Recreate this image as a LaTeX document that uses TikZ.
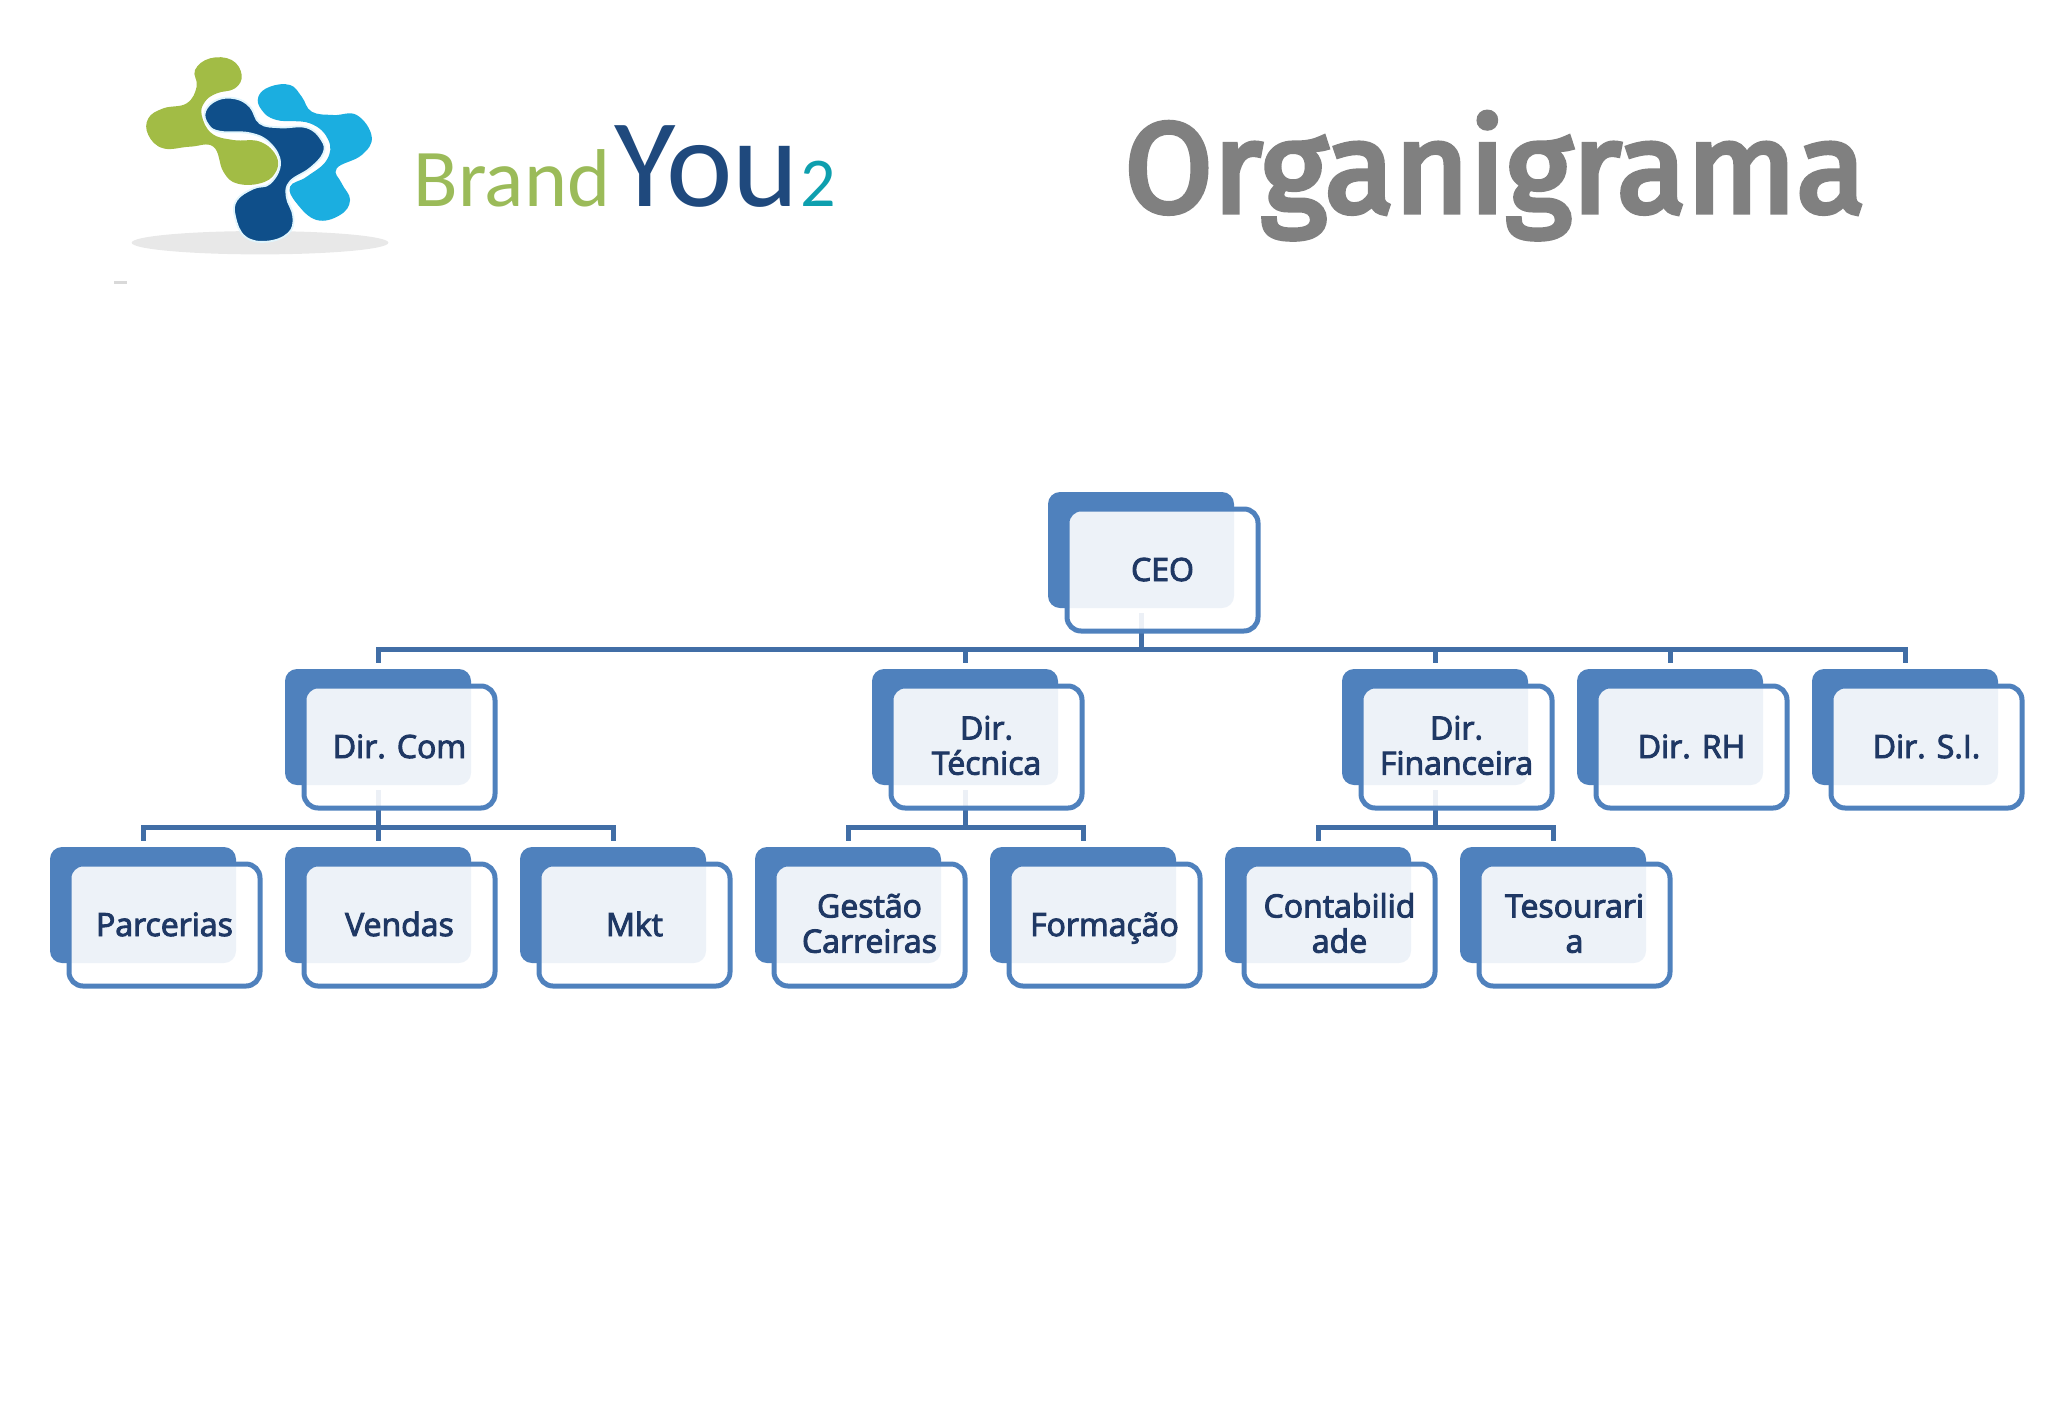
\documentclass[tikz,border=0pt]{standalone}
\usepackage{fontspec}
\setmainfont[FakeBold=3]{Open Sans}
\newfontfamily\logofont{Carlito}
\newfontfamily\titlefont[FakeBold=4]{Fira Sans}
\usetikzlibrary{positioning}
\definecolor{boxblue}{HTML}{4F81BD}
\definecolor{linkblue}{HTML}{416EA6}
\definecolor{boxtext}{HTML}{1F3864}
\definecolor{logogreen}{HTML}{9BBB59}
\definecolor{logonavy}{HTML}{1F497D}
\definecolor{logoteal}{HTML}{0E9FAE}
\definecolor{blobgreen}{HTML}{A2BC45}
\definecolor{blobdark}{HTML}{0F4F8A}
\definecolor{blobcyan}{HTML}{1BAEE0}
\newcommand{\boxstrut}{\rule[-4pt]{0pt}{19pt}}
\newcommand{\topstrut}{\rule{0pt}{14pt}}
\tikzstyle{backbox}=[fill=boxblue, rounded corners=6pt, minimum width=93pt, minimum height=58pt, inner sep=0pt, outer sep=0pt]
\tikzstyle{frontbox}=[draw=boxblue, line width=2.5pt, fill=white, fill opacity=0.9, text opacity=1, rounded corners=7pt, minimum width=95.5pt, minimum height=61pt, inner sep=0pt, align=center, text=boxtext, font=\fontsize{16}{17.6}\selectfont, execute at begin node=\boxstrut, execute at end node=\boxstrut]
\tikzstyle{link}=[draw=linkblue, line width=2.5pt, shorten <=2.5pt, shorten >=3pt]

\begin{document}
\begin{tikzpicture}[x=0.5pt, y=-0.5pt, node distance=31pt and 24.5pt]
    \path[use as bounding box] (0,0) rectangle (2048,1418);

    % logo
    \begin{scope}[shift={(120,40)}, x=0.1667pt, y=-0.1667pt]
      \fill[gray!18] (420,608) ellipse [x radius=385, y radius=35];
      \fill[gray!30] (-18,722) rectangle (22,732);
      \fill[blobgreen] plot[smooth cycle, tension=0.7] coordinates {(225,90) (270,55) (335,60) (365,105) (345,145) (290,160) (255,185) (245,225) (275,280) (340,300) (420,305) (470,350) (465,400) (420,430) (350,430) (310,395) (280,320) (210,320) (130,325) (85,285) (85,235) (130,205) (200,190) (230,140)};
      \fill[blobcyan] plot[smooth cycle, tension=0.7] coordinates {(415,170) (450,140) (510,135) (545,170) (575,215) (640,225) (710,225) (755,290) (725,345) (650,385) (665,430) (690,480) (660,525) (590,540) (530,490) (510,440) (560,410) (620,360) (625,300) (570,250) (470,240) (425,210)};
      \filldraw[fill=blobdark, draw=cyan!12!white, line width=0.9pt] plot[smooth cycle, tension=0.7] coordinates {(255,215) (290,180) (345,175) (390,200) (420,250) (480,262) (560,262) (605,300) (610,340) (570,385) (510,425) (500,470) (520,530) (505,580) (440,605) (375,590) (345,530) (350,480) (400,445) (450,430) (480,370) (450,310) (390,280) (300,275) (265,255)};
    \end{scope}
    \node[anchor=base west, inner sep=0pt, text=logogreen, font=\logofont\fontsize{41}{41}\selectfont] (brand) at (413,206) {Brand};
    \node[anchor=base west, inner sep=0pt, text=logonavy, font=\logofont\fontsize{63}{63}\selectfont] (you) at (614,206) {You};
    \node[anchor=base west, inner sep=0pt, text=logoteal, font=\logofont\fontsize{35}{35}\selectfont] (two) at (800,206) {2};
    \node[anchor=base west, inner sep=0pt, text=gray, font=\titlefont\fontsize{64}{64}\selectfont] (title) at (1124,212) {Organigrama};

    % back boxes
    \node[backbox] (ceoback) at (1141,550) {};
    \node[backbox] (parceriasback) at (143,905) {};
    \node[backbox] (vendasback) [right = of parceriasback] {};
    \node[backbox] (mktback) [right = of vendasback] {};
    \node[backbox] (gestaoback) [right = of mktback] {};
    \node[backbox] (formacaoback) [right = of gestaoback] {};
    \node[backbox] (contabback) [right = of formacaoback] {};
    \node[backbox] (tesourback) [right = of contabback] {};
    \node[backbox] (dircomback) [above = of vendasback] {};
    \node[backbox] (dirtecback) at (965,727) {};
    \node[backbox] (dirfinback) at (1435,727) {};
    \node[backbox] (dirrhback) [right = of dirfinback] {};
    \node[backbox] (dirsiback) [right = of dirrhback] {};

    \draw[link] (ceoback.south) -- ++(0,41) -| (dircomback.north);
    \draw[link] (ceoback.south) -- ++(0,41) -| (dirtecback.north);
    \draw[link] (ceoback.south) -- ++(0,41) -| (dirfinback.north);
    \draw[link] (ceoback.south) -- ++(0,41) -| (dirrhback.north);
    \draw[link] (ceoback.south) -- ++(0,41) -| (dirsiback.north);
    \draw[link] (dircomback.south) -- ++(0,42) -| (parceriasback.north);
    \draw[link] (dircomback.south) -- ++(0,42) -| (vendasback.north);
    \draw[link] (dircomback.south) -- ++(0,42) -| (mktback.north);
    \draw[link] (dirtecback.south) -- ++(0,42) -| (gestaoback.north);
    \draw[link] (dirtecback.south) -- ++(0,42) -| (formacaoback.north);
    \draw[link] (dirfinback.south) -- ++(0,42) -| (contabback.north);
    \draw[link] (dirfinback.south) -- ++(0,42) -| (tesourback.north);

    % front boxes
    \node[frontbox] (ceo) at ([shift={(21.5,20)}]ceoback.center) {CEO};
    \node[frontbox] (dircom) at ([shift={(21.5,20)}]dircomback.center) {Dir. Com};
    \node[frontbox] (dirtec) at ([shift={(21.5,20)}]dirtecback.center) {\topstrut Dir.\\Técnica};
    \node[frontbox] (dirfin) at ([shift={(21.5,20)}]dirfinback.center) {\topstrut Dir.\\Financeira};
    \node[frontbox] (dirrh) at ([shift={(21.5,20)}]dirrhback.center) {Dir. RH};
    \node[frontbox] (dirsi) at ([shift={(21.5,20)}]dirsiback.center) {Dir. S.I.};
    \node[frontbox] (parcerias) at ([shift={(21.5,20)}]parceriasback.center) {Parcerias};
    \node[frontbox] (vendas) at ([shift={(21.5,20)}]vendasback.center) {Vendas};
    \node[frontbox] (mkt) at ([shift={(21.5,20)}]mktback.center) {Mkt};
    \node[frontbox] (gestao) at ([shift={(21.5,20)}]gestaoback.center) {\topstrut Gestão\\Carreiras};
    \node[frontbox] (formacao) at ([shift={(21.5,20)}]formacaoback.center) {Formação};
    \node[frontbox] (contab) at ([shift={(21.5,20)}]contabback.center) {\topstrut Contabilid\\ade};
    \node[frontbox] (tesour) at ([shift={(21.5,20)}]tesourback.center) {\topstrut Tesourari\\a};
  \end{tikzpicture}
\end{document}
